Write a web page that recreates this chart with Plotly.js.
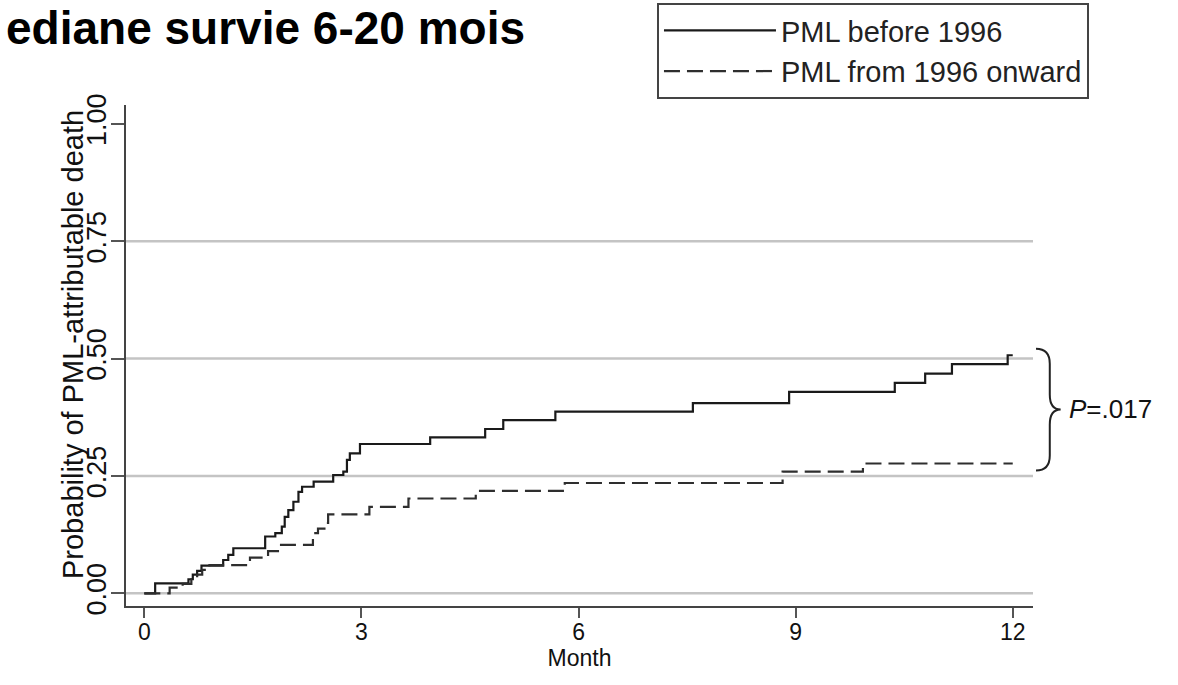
<!DOCTYPE html>
<html>
<head>
<meta charset="utf-8">
<script src="https://cdn.plot.ly/plotly-3.0.1.min.js"></script>
<style>html,body{margin:0;padding:0;background:#fff;}#chart{width:1178px;height:685px;}</style>
</head>
<body>
<div id="chart"></div>
<script>
// ---- data ----
var seriesNames = ['PML before 1996', 'PML from 1996 onward'];
var monthsBefore = [0, 0.15, 0.61, 0.67, 0.73, 0.79, 1.09, 1.16, 1.23, 1.67, 1.81, 1.90, 1.94, 1.99, 2.06, 2.13, 2.18, 2.34, 2.61, 2.75, 2.80, 2.84, 2.98, 3.95, 4.71, 4.96, 5.68, 7.58, 8.91, 10.37, 10.79, 11.16, 11.93, 12.0];
var probBefore  = [0, 0.021, 0.030, 0.040, 0.048, 0.059, 0.071, 0.082, 0.096, 0.121, 0.128, 0.142, 0.163, 0.177, 0.195, 0.216, 0.227, 0.238, 0.252, 0.259, 0.284, 0.298, 0.318, 0.332, 0.350, 0.369, 0.387, 0.405, 0.429, 0.448, 0.468, 0.488, 0.507, 0.507];
var monthsAfter = [0, 0.35, 0.53, 0.65, 0.73, 0.80, 0.90, 1.46, 1.71, 1.87, 2.33, 2.40, 2.52, 2.54, 3.11, 3.65, 4.58, 5.81, 8.82, 9.93, 12.0];
var probAfter   = [0, 0.012, 0.020, 0.030, 0.040, 0.050, 0.060, 0.076, 0.090, 0.103, 0.128, 0.138, 0.150, 0.168, 0.184, 0.202, 0.218, 0.235, 0.259, 0.2765, 0.2765];
var xTickVals = [0, 3, 6, 9, 12];
var xTickText = ['0', '3', '6', '9', '12'];
var yTickVals = [0, 0.25, 0.5, 0.75, 1];
var yTickText = ['0.00', '0.25', '0.50', '0.75', '1.00'];
var gridVals = [0, 0.25, 0.5, 0.75];
var pText = '<i>P</i>=.017';
var titleText = 'ediane survie 6-20 mois';
var xTitle = 'Month';
var yTitle = 'Probability of PML-attributable death';

var FONT = 'Liberation Sans, Arial, Helvetica, sans-serif';
var yRange = [-0.027, 1.040];
var xRange = [-0.253, 12.28];

function paperY(v) { return (v - yRange[0]) / (yRange[1] - yRange[0]); }

var traces = [
  {x: monthsBefore, y: probBefore, name: seriesNames[0], type: 'scatter', mode: 'lines',
   line: {shape: 'hv', color: '#1a1a1a', width: 2.2}},
  {x: monthsAfter, y: probAfter, name: seriesNames[1], type: 'scatter', mode: 'lines',
   line: {shape: 'hv', color: '#2e2e2e', width: 2.2, dash: '16px,7px'}}
];

var shapes = gridVals.map(function (v) {
  return {type: 'line', xref: 'paper', yref: 'y', x0: 0, x1: 1, y0: v, y1: v,
          line: {color: '#c4c4c4', width: 2.5}, layer: 'below'};
});

// brace spanning the two end values
var endTop = probBefore[probBefore.length - 1];
var endBot = probAfter[probAfter.length - 1];
var yt = paperY(endTop + 0.014), yb = paperY(endBot - 0.015), ym = (yt + yb) / 2;
var x0 = 1.0033, xs = 1.0185, xp = 1.0305, r = 0.03;
var bracePath = 'M' + x0 + ',' + yt +
  ' Q' + xs + ',' + yt + ' ' + xs + ',' + (yt - r) +
  ' L' + xs + ',' + (ym + r) +
  ' Q' + xs + ',' + ym + ' ' + xp + ',' + ym +
  ' Q' + xs + ',' + ym + ' ' + xs + ',' + (ym - r) +
  ' L' + xs + ',' + (yb + r) +
  ' Q' + xs + ',' + yb + ' ' + x0 + ',' + yb;
shapes.push({type: 'path', xref: 'paper', yref: 'paper', path: bracePath,
             line: {color: '#222', width: 2}});

var layout = {
  width: 1178, height: 685,
  margin: {l: 126, r: 145, t: 105, b: 79, pad: 0, autoexpand: false},
  paper_bgcolor: '#fff', plot_bgcolor: '#fff',
  font: {family: FONT, color: '#111'},
  showlegend: true,
  legend: {xref: 'container', yref: 'container', x: 0.5577, y: 0.9956,
           xanchor: 'left', yanchor: 'top',
           bordercolor: '#444', borderwidth: 2, bgcolor: '#fff',
           font: {family: FONT, size: 29, color: '#222'}, itemwidth: 112,
           tracegroupgap: 0},
  xaxis: {range: xRange, tickvals: xTickVals, ticktext: xTickText,
          showgrid: false, zeroline: false, showline: true, linecolor: '#444', linewidth: 2,
          ticks: 'outside', ticklen: 10, tickwidth: 2, tickcolor: '#555',
          ticklabelstandoff: -6,
          tickfont: {family: FONT, size: 23, color: '#111'},
          title: {text: xTitle, font: {family: FONT, size: 23, color: '#111'}, standoff: 1}},
  yaxis: {range: yRange, tickvals: yTickVals, ticktext: yTickText,
          showgrid: false, zeroline: false, showline: true, linecolor: '#444', linewidth: 2,
          ticks: 'outside', ticklen: 13, tickwidth: 2, tickcolor: '#555', tickangle: -90,
          ticklabelstandoff: -6,
          tickfont: {family: FONT, size: 27, color: '#111'}},
  shapes: shapes,
  annotations: [
    {text: titleText, xref: 'paper', yref: 'paper', x: -0.1345, y: 1.1537,
     xanchor: 'left', yanchor: 'middle', showarrow: false,
     font: {family: FONT, size: 46, color: '#000', weight: 'bold'}},
    {text: yTitle, xref: 'paper', yref: 'paper', x: -0.0584, y: 0.521, textangle: -90,
     xanchor: 'center', yanchor: 'middle', showarrow: false,
     font: {family: FONT, size: 29, color: '#111'}},
    {text: pText, xref: 'paper', yref: 'y', x: 1.0375, y: (endTop + endBot) / 2,
     xanchor: 'left', yanchor: 'middle', showarrow: false,
     font: {family: FONT, size: 26, color: '#111'}}
  ],
  hovermode: false
};

Plotly.newPlot('chart', traces, layout, {displayModeBar: false, staticPlot: true});
</script>
</body>
</html>
